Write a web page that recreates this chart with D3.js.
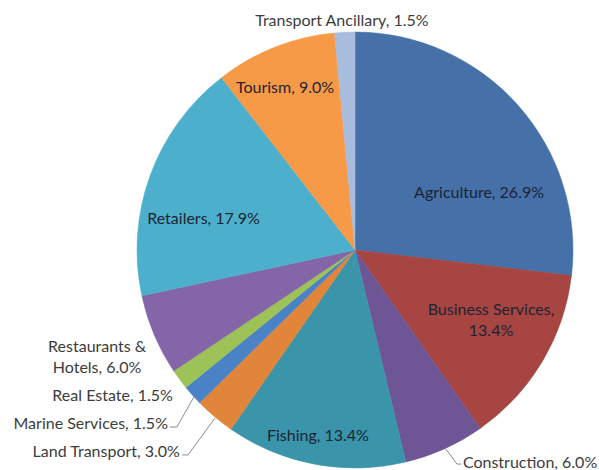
<!DOCTYPE html>
<html>
<head>
<meta charset="utf-8">
<script src="https://cdn.jsdelivr.net/npm/d3@7/dist/d3.min.js"></script>
<style>
  html, body { margin: 0; padding: 0; background: #fff; }
  svg { display: block; font-family: Lato, "Open Sans", sans-serif; }
</style>
</head>
<body>
<svg id="chart" width="599" height="470"></svg>
<script>
// Share of businesses by sector (percent)
const sectors = ["Agriculture", "Business Services", "Construction", "Fishing",
  "Land Transport", "Marine Services", "Real Estate", "Restaurants & Hotels",
  "Retailers", "Tourism", "Transport Ancillary"];
const shares = [26.9, 13.4, 6.0, 13.4, 3.0, 1.5, 1.5, 6.0, 17.9, 9.0, 1.5];
const sliceColors = ["#4570a8", "#a64541", "#6e5596", "#3a95ab", "#e0853a",
  "#4a82c6", "#9cc258", "#8466a8", "#4cb0cc", "#f79a48", "#a8bcdd"];

// Label text lines for each slice
const labelLines = [
  ["Agriculture, 26.9%"],
  ["Business Services,", "13.4%"],
  ["Construction, 6.0%"],
  ["Fishing, 13.4%"],
  ["Land Transport, 3.0%"],
  ["Marine Services, 1.5%"],
  ["Real Estate, 1.5%"],
  ["Restaurants &", "Hotels, 6.0%"],
  ["Retailers, 17.9%"],
  ["Tourism, 9.0%"],
  ["Transport Ancillary, 1.5%"]
];

const svg = d3.select("#chart");
const cx = 355, cy = 250, R = 218;

const color = d3.scaleOrdinal().domain(sectors).range(sliceColors);

const pie = d3.pie().sort(null).value(d => d.v)
  .startAngle(0).endAngle(2 * Math.PI);
const data = sectors.map((s, i) => ({ name: s, v: shares[i], lines: labelLines[i] }));
const arcs = pie(data);

const arc = d3.arc().innerRadius(0).outerRadius(R);

const g = svg.append("g").attr("transform", `translate(${cx},${cy})`);

g.selectAll("path.slice")
  .data(arcs)
  .enter().append("path")
  .attr("class", "slice")
  .attr("d", arc)
  .attr("fill", d => color(d.data.name))
  .attr("stroke", d => color(d.data.name))
  .attr("stroke-width", 0.5);

// Label placement, relative to the pie centre in units of the radius
const labelPlacement = {
  "Agriculture":          { x: 0.569, y: -0.266, anchor: "middle", inside: true },
  "Business Services":    { x: 0.624, y: 0.321, anchor: "middle", inside: true },
  "Construction":         { x: 0.495, y: 0.972, anchor: "start", inside: false,
                            leader: [[0.413, 0.908], [0.468, 0.982], [0.488, 0.982]] },
  "Fishing":              { x: -0.170, y: 0.849, anchor: "middle", inside: true },
  "Land Transport":       { x: -0.803, y: 0.922, anchor: "end", inside: false,
                            leader: [[-0.642, 0.771], [-0.766, 0.940], [-0.794, 0.940]] },
  "Marine Services":      { x: -0.858, y: 0.794, anchor: "end", inside: false,
                            leader: [[-0.739, 0.674], [-0.817, 0.812], [-0.849, 0.812]] },
  "Real Estate":          { x: -1.112, y: 0.665, anchor: "middle", inside: false },
  "Restaurants & Hotels": { x: -1.183, y: 0.489, anchor: "middle", inside: false },
  "Retailers":            { x: -0.695, y: -0.147, anchor: "middle", inside: true },
  "Tourism":              { x: -0.321, y: -0.748, anchor: "middle", inside: true },
  "Transport Ancillary":  { x: -0.060, y: -1.055, anchor: "middle", inside: false }
};

const lineGen = d3.line().x(p => p[0] * R).y(p => p[1] * R);

// Leader lines for the small outer labels
g.selectAll("path.leader")
  .data(arcs.filter(d => labelPlacement[d.data.name].leader))
  .enter().append("path")
  .attr("class", "leader")
  .attr("d", d => lineGen(labelPlacement[d.data.name].leader))
  .attr("fill", "none")
  .attr("stroke", "#8c8c8c")
  .attr("stroke-width", 1);

const lineHeight = 21;
const labels = g.selectAll("text.label")
  .data(arcs)
  .enter().append("text")
  .attr("class", "label")
  .attr("text-anchor", d => labelPlacement[d.data.name].anchor)
  .attr("font-size", 16)
  .attr("fill", d => labelPlacement[d.data.name].inside ? "#1c2433" : "#3c3c3c")
  .attr("transform", d => {
    const p = labelPlacement[d.data.name];
    const n = d.data.lines.length;
    return `translate(${p.x * R},${p.y * R - (n - 1) * lineHeight / 2})`;
  });

labels.selectAll("tspan")
  .data(d => d.data.lines)
  .enter().append("tspan")
  .attr("x", 0)
  .attr("dy", (t, i) => i === 0 ? "0.35em" : lineHeight)
  .text(t => t);
</script>
</body>
</html>
